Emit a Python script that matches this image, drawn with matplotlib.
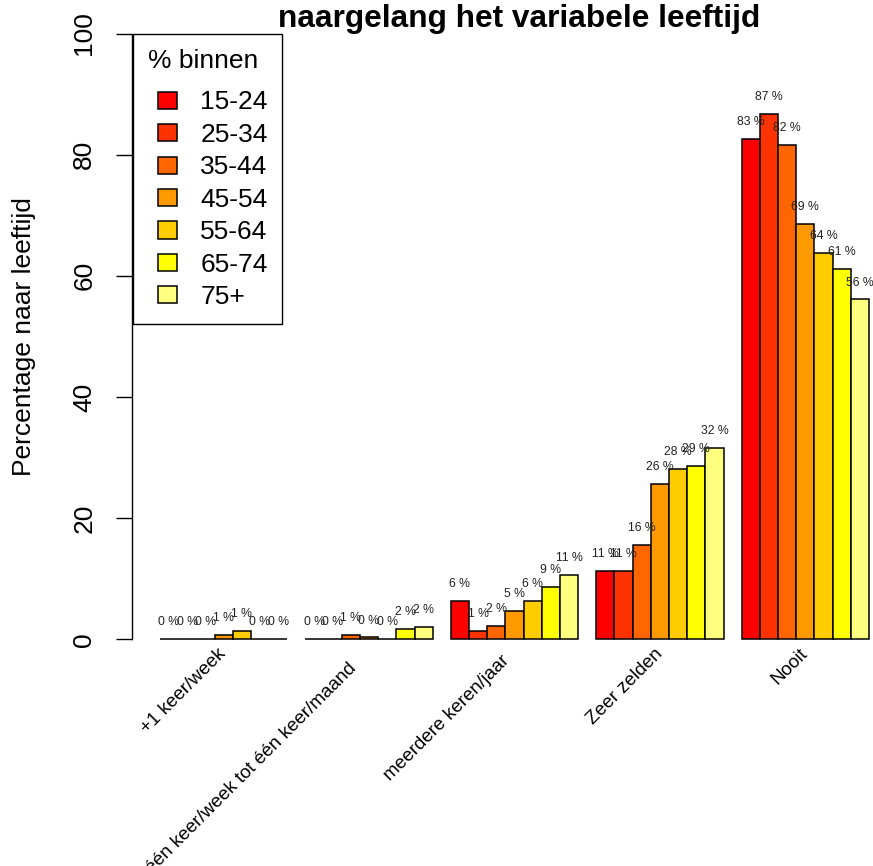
import numpy as np
import matplotlib
matplotlib.use("Agg")
import matplotlib.pyplot as plt
from matplotlib.patches import Rectangle
from matplotlib.legend_handler import HandlerPatch

plt.rcParams['font.family'] = ['Liberation Sans', 'DejaVu Sans']

# Frequency categories (x axis) and age groups (series)
categories = ["+1 keer/week", "één keer/week tot één keer/maand    ",
              "meerdere keren/jaar  ", "Zeer zelden", "Nooit"]
age_groups = ["15-24", "25-34", "35-44", "45-54", "55-64", "65-74", "75+"]

# Percentage per age group within each frequency category
pct_weekly = [0.0, 0.0, 0.0, 0.7, 1.4, 0.0, 0.0]
pct_weekly_monthly = [0.0, 0.0, 0.7, 0.3, 0.0, 1.7, 2.0]
pct_yearly = [6.3, 1.4, 2.2, 4.7, 6.4, 8.6, 10.6]
pct_rarely = [11.2, 11.2, 15.6, 25.6, 28.1, 28.6, 31.6]
pct_never = [82.6, 86.7, 81.6, 68.6, 63.8, 61.2, 56.1]

yticks = [0, 20, 40, 60, 80, 100]

colors = ["#FF0000", "#FF3300", "#FF6600", "#FF9900", "#FFCC00", "#FFFF00", "#FFFF80"]

values = np.array([pct_weekly, pct_weekly_monthly, pct_yearly, pct_rarely, pct_never])
n_cat, n_age = values.shape

W, H = 873, 866
fig = plt.figure(figsize=(W / 100, H / 100), dpi=100)
ax = fig.add_axes([131.6 / W, (H - 639.3) / H, 765.8 / W, 630 / H])

group_start = 1 + np.arange(n_cat) * (n_age + 1)
handles = []
for i, age in enumerate(age_groups):
    centers = group_start + i + 0.5
    bars = ax.bar(centers, values[:, i], width=1.0, color=colors[i],
                  edgecolor="black", linewidth=1.1, clip_on=False, zorder=2)
    handles.append(bars.patches[0])
    for x, v in zip(centers, values[:, i]):
        ax.text(x, v + 2.8, f"{int(np.floor(v + 0.5))} %", ha="center", va="center",
                fontsize=8.8, color="#222222", zorder=3)

ax.set_xlim(-0.56, 41.56)
ax.set_ylim(0, 104)

for side in ("top", "right", "bottom"):
    ax.spines[side].set_visible(False)
ax.spines["left"].set_bounds(0, 100)
ax.spines["left"].set_linewidth(1.0)

ax.set_yticks(yticks)
ax.set_yticklabels([str(t) for t in yticks])
ax.tick_params(axis="y", length=11.5, width=1.0, pad=14, labelsize=19)
for lbl in ax.get_yticklabels():
    lbl.set_rotation(90)
    lbl.set_va("center")

group_centers = group_start + n_age / 2
ax.set_xticks(group_centers)
ax.set_xticklabels(categories, rotation=45, ha="right", va="center",
                   rotation_mode="anchor", fontsize=13.6)
ax.tick_params(axis="x", length=0, pad=8.5)

ax.set_ylabel("Percentage naar leeftijd", fontsize=19)
ax.yaxis.label.set_va("center")
ax.yaxis.set_label_coords((24 - 131.6) / 765.8, (639.3 - 337) / 630)

fig.text(519 / W, 1 - 27 / H, "naargelang het variabele leeftijd",
         ha="center", va="baseline", fontsize=22.8, fontweight="bold")

fs = 19
leg = ax.legend(handles, age_groups, title="% binnen", loc="upper left",
                bbox_to_anchor=(133 / W, 1 - 34 / H), bbox_transform=fig.transFigure,
                borderaxespad=0, fontsize=fs, title_fontsize=fs, alignment="left",
                fancybox=False, framealpha=1, edgecolor="black",
                borderpad=0.55, labelspacing=0.32, handlelength=1.1,
                handleheight=0.62, handletextpad=0.9,
                handler_map={Rectangle: HandlerPatch(xpad=0.38)})
leg.get_frame().set_linewidth(1.0)
leg._legend_box.sep = 0.32 * fs * 100 / 72 + 4.5

fig.savefig("out.png", dpi=100)
